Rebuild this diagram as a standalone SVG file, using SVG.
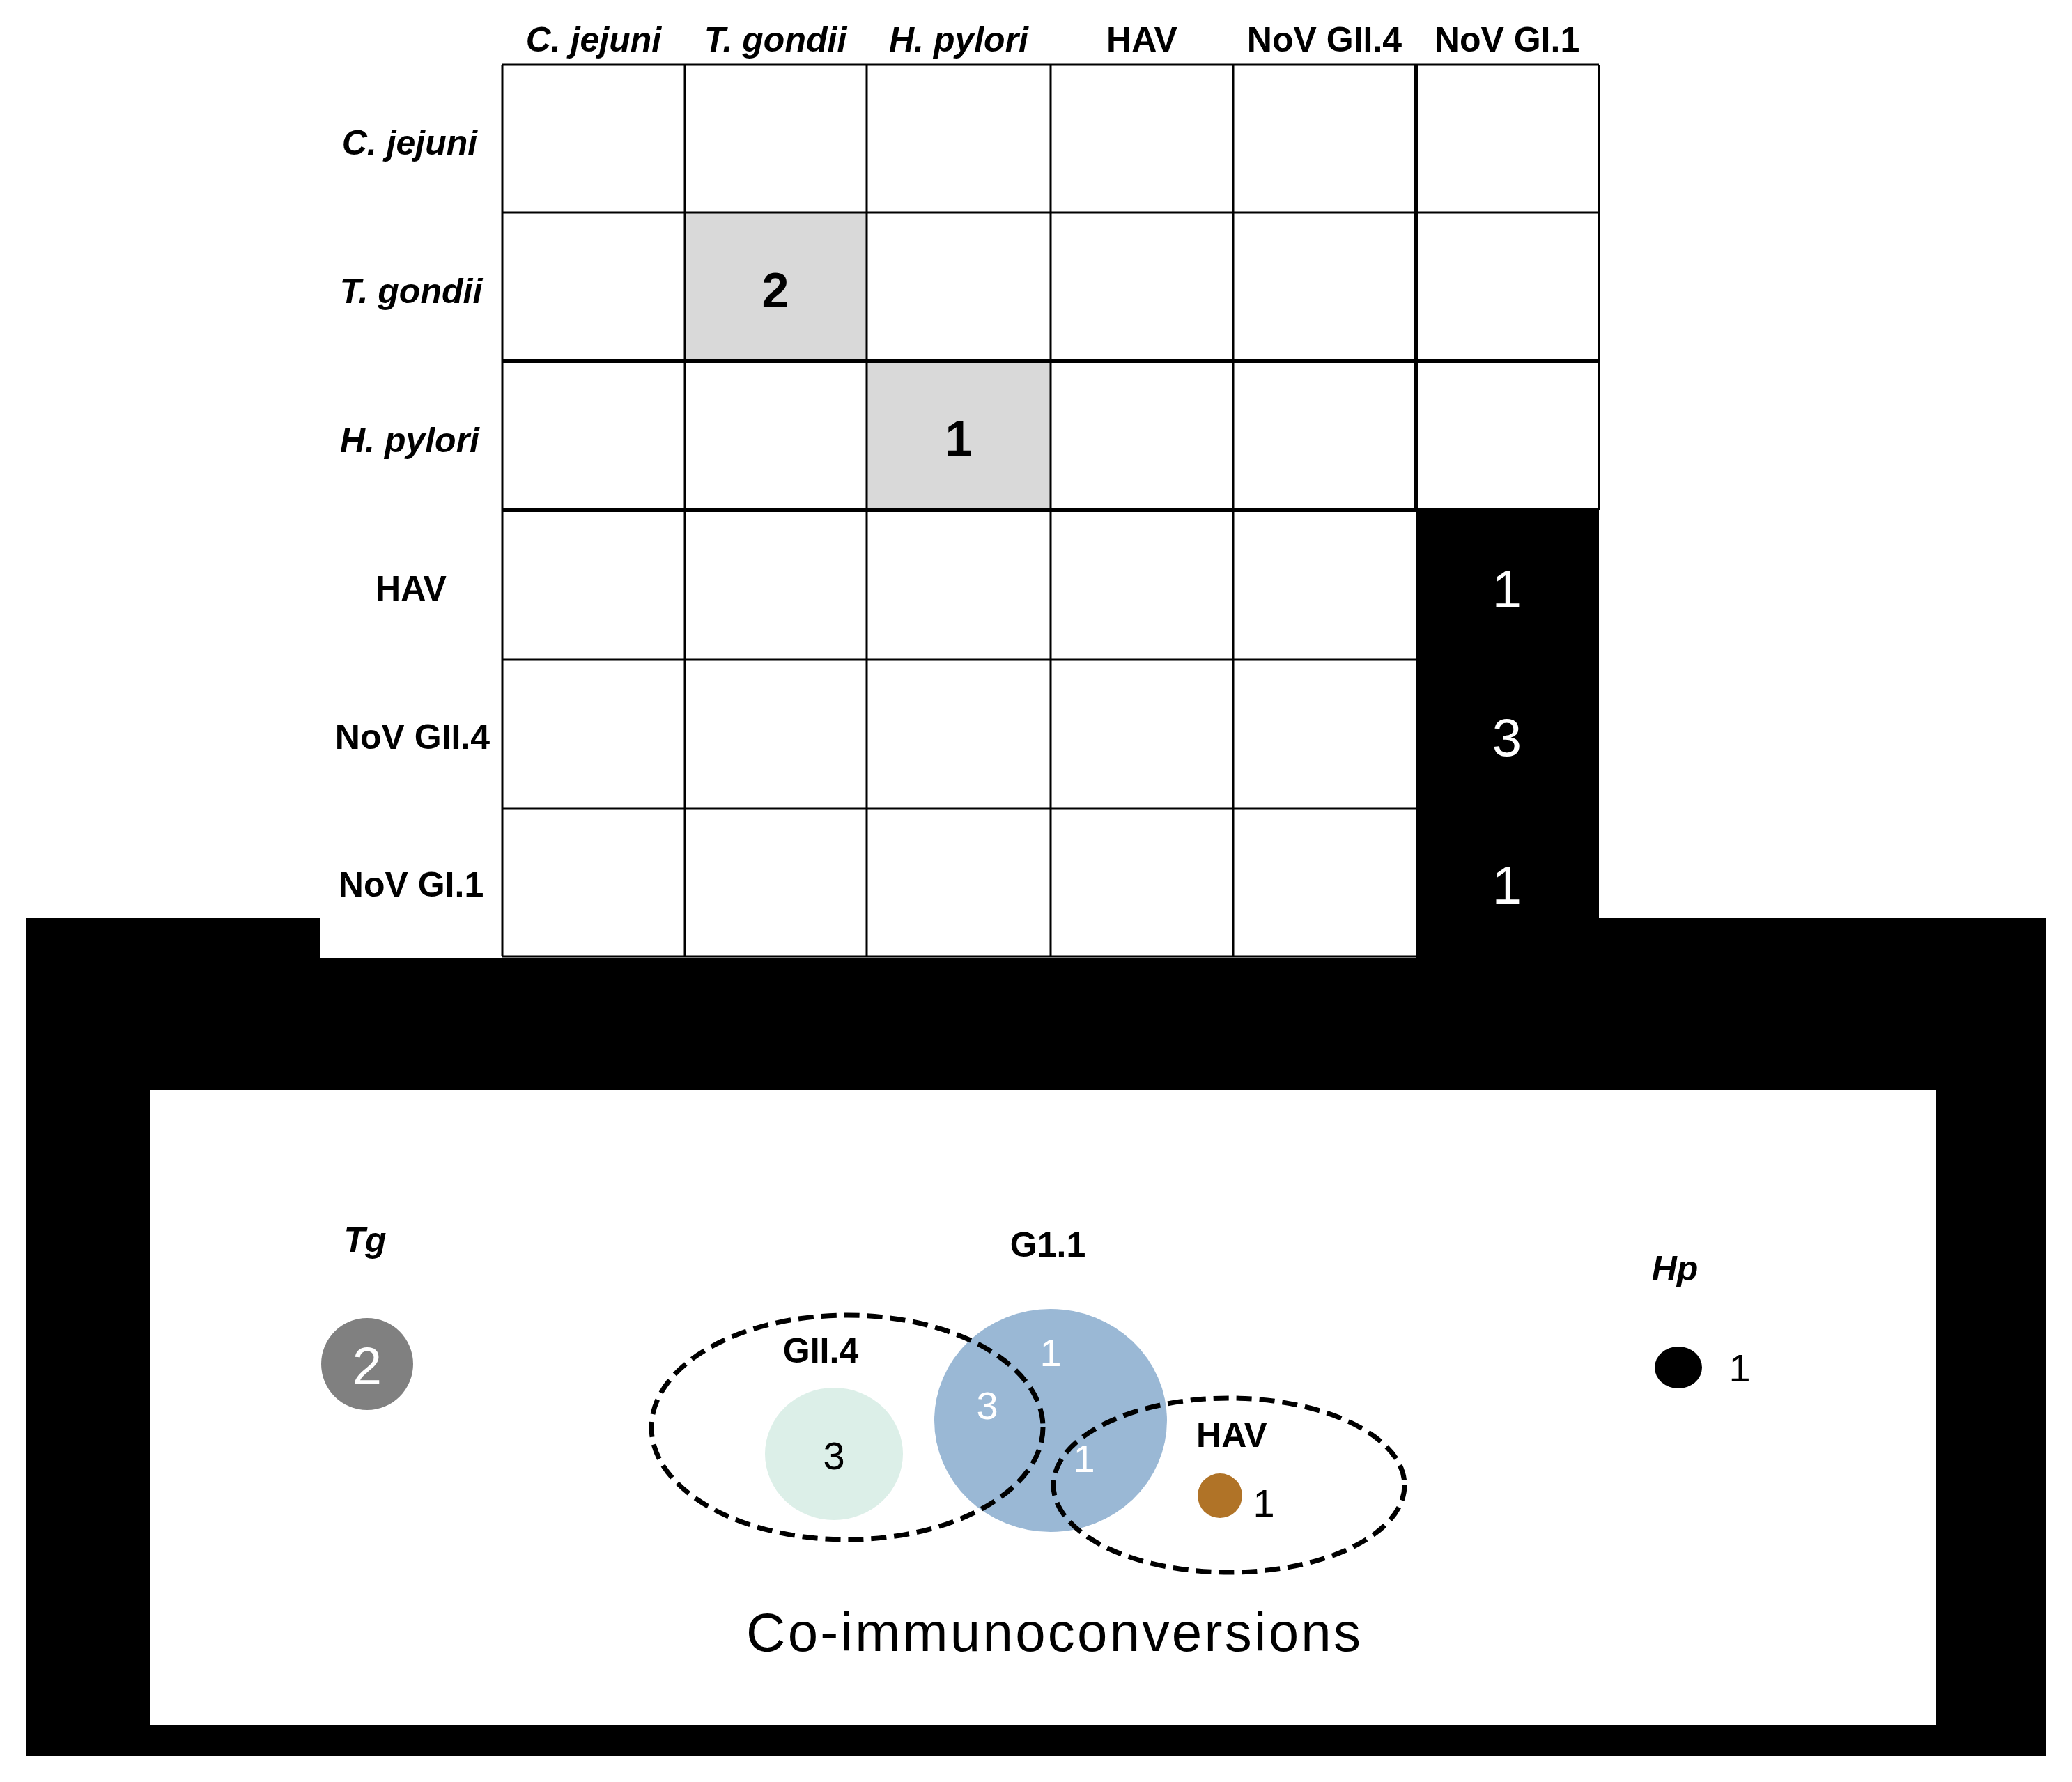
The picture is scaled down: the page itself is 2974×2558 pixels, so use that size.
<svg xmlns="http://www.w3.org/2000/svg" width="2974" height="2558" viewBox="0 0 2974 2558">
<style>
.h{font-family:"Liberation Sans",Arial,sans-serif;font-weight:bold;font-size:50px;text-anchor:middle;dominant-baseline:central}
.i{font-style:italic}
.g{stroke:#000;stroke-width:3;fill:none}
.t{stroke:#000;stroke-width:6}
.n{font-family:"Liberation Sans",Arial,sans-serif;text-anchor:middle;dominant-baseline:central}
.d{fill:none;stroke:#000;stroke-width:7;stroke-dasharray:22 11}
</style>
<rect width="2974" height="2558" fill="#fff"/>
<g id="frame">
<rect x="38" y="1318" width="2899" height="1203" fill="#000"/>
<rect x="459" y="1318" width="1573" height="57" fill="#fff"/>
<rect x="216" y="1565" width="2563" height="911" fill="#fff"/>
<rect x="2032" y="732" width="263" height="640" fill="#000"/>
</g>
<g id="matrix">
<rect x="983" y="305" width="261" height="213" fill="#d9d9d9"/>
<rect x="1244" y="518" width="264" height="214" fill="#d9d9d9"/>
<g class="g">
<path d="M721 93V1373M983 93V1373M1244 93V1373M1508 93V1373M1770 93V1373M2032 93V732M2295 93V732"/>
<path d="M721 93H2295M721 305H2295M721 947H2032M721 1161H2032M721 1373H2032"/>
</g>
<path class="t" d="M721 518H2295M721 732H2295M2032 93V732"/>
<text class="h i" x="852" y="57">C. jejuni</text>
<text class="h i" x="1113" y="57">T. gondii</text>
<text class="h i" x="1376" y="57">H. pylori</text>
<text class="h" x="1639" y="57">HAV</text>
<text class="h" x="1901" y="57">NoV GII.4</text>
<text class="h" x="2163" y="57">NoV GI.1</text>
<text class="h i" x="588" y="205">C. jejuni</text>
<text class="h i" x="590" y="418">T. gondii</text>
<text class="h i" x="588" y="632">H. pylori</text>
<text class="h" x="590" y="845">HAV</text>
<text class="h" x="592" y="1058">NoV GII.4</text>
<text class="h" x="590" y="1270">NoV GI.1</text>
<text class="n" x="1113" y="417" font-size="70" font-weight="bold">2</text>
<text class="n" x="1376" y="630" font-size="70" font-weight="bold">1</text>
<text class="n" x="2163" y="845" font-size="76" fill="#fff">1</text>
<text class="n" x="2163" y="1058" font-size="76" fill="#fff">3</text>
<text class="n" x="2163" y="1270" font-size="76" fill="#fff">1</text>
</g>
<g id="venn">
<text class="h i" x="524" y="1780" font-size="54">Tg</text>
<circle cx="527" cy="1958" r="66" fill="#808080"/>
<text class="n" x="527" y="1960" font-size="76" fill="#fff">2</text>
<text class="h" x="1504" y="1787" font-size="54">G1.1</text>
<ellipse cx="1508" cy="2039" rx="167" ry="160" fill="#9ab8d5"/>
<ellipse cx="1197" cy="2087" rx="99" ry="95" fill="#dcefe8"/>
<ellipse class="d" cx="1216" cy="2049" rx="281" ry="161"/>
<ellipse class="d" cx="1764" cy="2132" rx="252" ry="125"/>
<text class="h" x="1178" y="1939" font-size="54">GII.4</text>
<text class="h" x="1768" y="2060" font-size="54">HAV</text>
<text class="n" x="1508" y="1941" font-size="56" fill="#fff">1</text>
<text class="n" x="1417" y="2017" font-size="56" fill="#fff">3</text>
<text class="n" x="1556" y="2093" font-size="56" fill="#fff">1</text>
<text class="n" x="1197" y="2089" font-size="56">3</text>
<circle cx="1751" cy="2147" r="32" fill="#b07327"/>
<text class="n" x="1814" y="2157" font-size="56">1</text>
<text class="h i" x="2404" y="1821" font-size="54">Hp</text>
<ellipse cx="2409" cy="1963" rx="34" ry="30" fill="#000"/>
<text class="n" x="2497" y="1963" font-size="56">1</text>
<text class="n" x="1512" y="2343" font-size="78" textLength="882">Co-immunoconversions</text>
</g>
</svg>
